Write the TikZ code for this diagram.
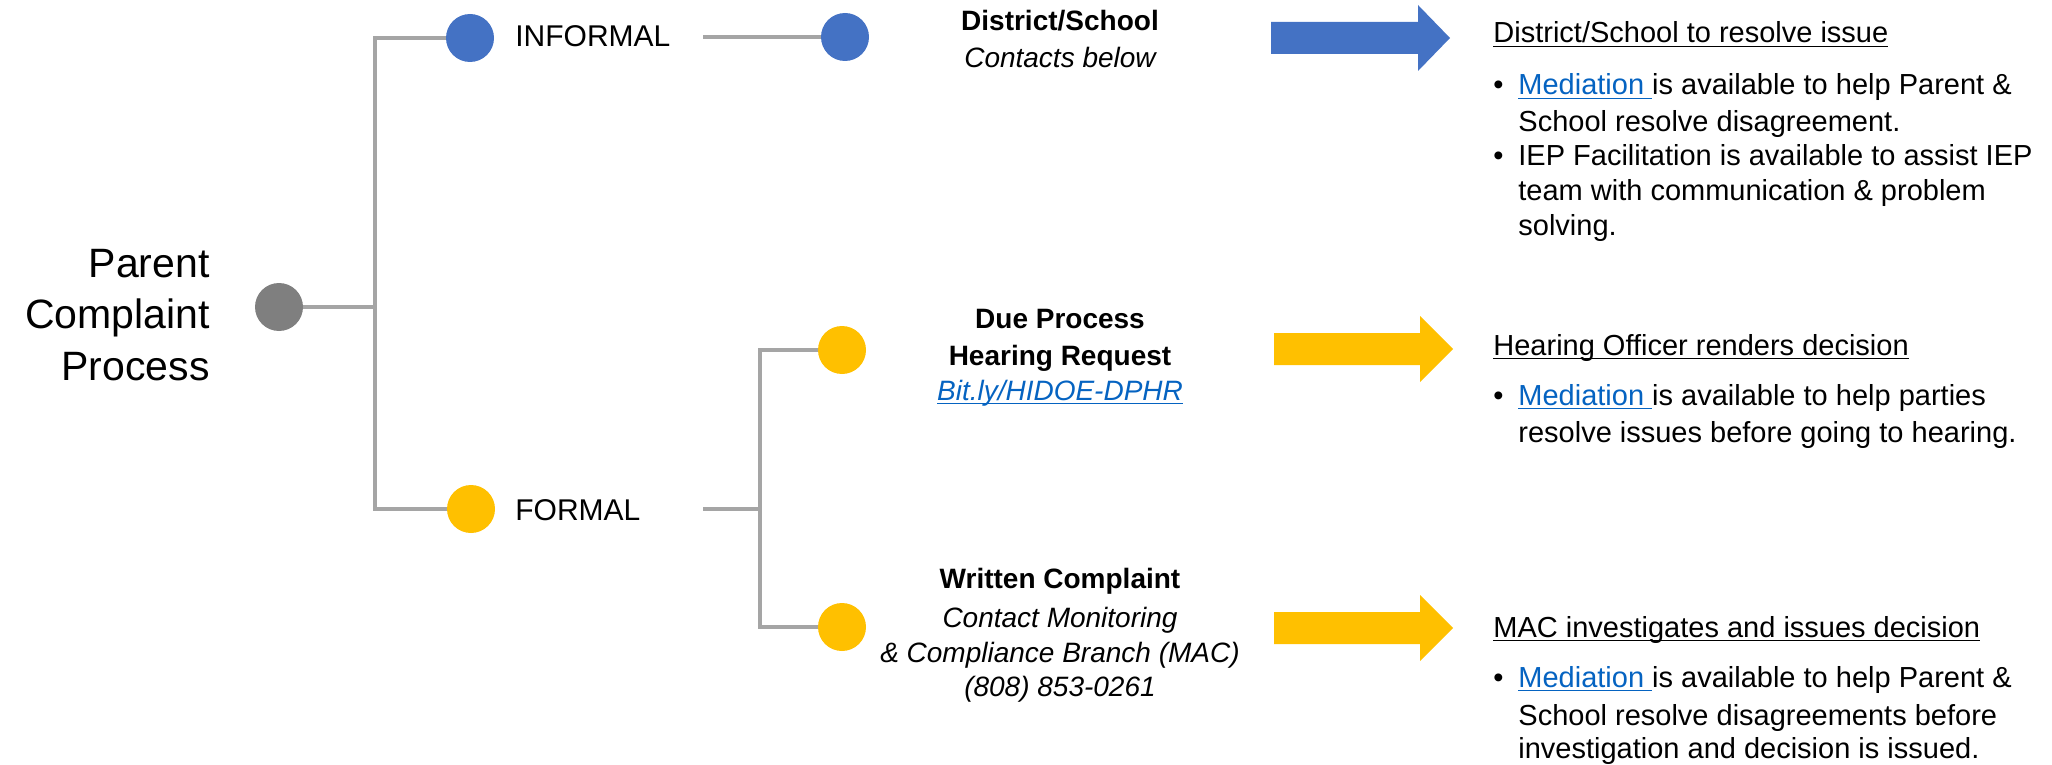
\documentclass[tikz,border=0pt]{standalone}
\usepackage{fontspec}
\setmainfont{Liberation Sans}
\definecolor{cblue}{HTML}{4472C4}
\definecolor{cyellow}{HTML}{FFC000}
\definecolor{cgray}{HTML}{7F7F7F}
\definecolor{cline}{HTML}{A5A5A5}
\definecolor{linkc}{HTML}{0563C1}
\newcommand\ulx[2]{\setbox0\hbox{{#2}}\rlap{{\color{#1}\rule[-2.2pt]{\wd0}{0.75pt}}}\box0}
\tikzset{
  dot/.style={circle, minimum size=24pt, inner sep=0, draw=none},
  conn/.style={draw=cline, line width=1.7pt},
  ttl/.style={anchor=base east, inner sep=0, font=\fontsize{20.5pt}{25pt}\selectfont},
  lvl/.style={anchor=base west, inner sep=0, font=\fontsize{15pt}{18pt}\selectfont},
  mid/.style={anchor=base, inner sep=0, font=\fontsize{14pt}{17pt}\selectfont},
  rt/.style={anchor=base west, inner sep=0, font=\fontsize{14.5pt}{17pt}\selectfont},
}
\begin{document}
\begin{tikzpicture}[x=0.5pt, y=-0.5pt]
\useasboundingbox (0,0) rectangle (2052,765);
% title
\node[ttl] (t1) at (210,277) {Parent};
\node[ttl] (t2) at (210,328) {Complaint};
\node[ttl] (t3) at (210,380) {Process};
% connectors
\coordinate (j1) at (375,307);
\coordinate (s1) at (703,37);
\coordinate (s2) at (703,509);
\coordinate (j2) at (760,509);
% circles
\node[dot, fill=cgray] (root) at (279,307) {};
\node[dot, fill=cblue] (inf) at (470,38) {};
\node[dot, fill=cyellow] (form) at (471,509) {};
\node[dot, fill=cblue] (ds) at (845,37) {};
\node[dot, fill=cyellow] (dp) at (842,350) {};
\node[dot, fill=cyellow] (wc) at (842,627) {};
\draw[conn] (root.east) -- (j1);
\draw[conn] (j1) |- (inf.west);
\draw[conn] (j1) |- (form.west);
\draw[conn] (s1) -- (ds.west);
\draw[conn] (s2) -- (j2);
\draw[conn] (j2) |- (dp.west);
\draw[conn] (j2) |- (wc.west);
% level labels
\node[lvl] (infl) at (515,47) {INFORMAL};
\node[lvl] (forml) at (515,520) {FORMAL};
% middle texts
\node[mid] (m1) at (1060,31) {\bfseries District/School};
\node[mid] (m2) at (1060,68) {\itshape Contacts below};
\node[mid] (m3) at (1060,328) {\bfseries Due Process};
\node[mid] (m4) at (1060,365) {\bfseries Hearing Request};
\node[mid] (m5) at (1060,400) {\itshape\ulx{linkc}{\color{linkc}Bit.ly/HIDOE-DPHR}};
\node[mid] (m6) at (1060,588) {\bfseries Written Complaint};
\node[mid] (m7) at (1060,627) {\itshape Contact Monitoring};
\node[mid] (m8) at (1060,662) {\itshape \& Compliance Branch (MAC)};
\node[mid] (m9) at (1060,696) {\itshape (808) 853-0261};
% block arrows
\fill[cblue] (1271,22) -- (1418,22) -- (1418,5) -- (1450,38) -- (1418,71) -- (1418,54) -- (1271,54) -- cycle;
\fill[cyellow] (1274,333) -- (1420,333) -- (1420,316) -- (1453,349) -- (1420,382) -- (1420,365) -- (1274,365) -- cycle;
\fill[cyellow] (1274,612) -- (1420,612) -- (1420,595) -- (1453,628) -- (1420,661) -- (1420,644) -- (1274,644) -- cycle;
% right texts
\node[rt] (h1) at (1493,43) {\ulx{black}{District/School to resolve issue}};
\node[rt] (b1) at (1493,95) {\textbullet};
\node[rt] (r1) at (1518,95) {\ulx{linkc}{\color{linkc}Mediation }is available to help Parent \&};
\node[rt] (r2) at (1518,132) {School resolve disagreement.};
\node[rt] (b2) at (1493,166) {\textbullet};
\node[rt] (r3) at (1518,166) {IEP Facilitation is available to assist IEP};
\node[rt] (r4) at (1518,200) {team with communication \& problem};
\node[rt] (r5) at (1518,235) {solving.};
\node[rt] (h2) at (1493,355) {\ulx{black}{Hearing Officer renders decision}};
\node[rt] (b3) at (1493,405) {\textbullet};
\node[rt] (r6) at (1518,405) {\ulx{linkc}{\color{linkc}Mediation }is available to help parties};
\node[rt] (r7) at (1518,442) {resolve issues before going to hearing.};
\node[rt] (h3) at (1493,637) {\ulx{black}{MAC investigates and issues decision}};
\node[rt] (b4) at (1493,687) {\textbullet};
\node[rt] (r8) at (1518,687) {\ulx{linkc}{\color{linkc}Mediation }is available to help Parent \&};
\node[rt] (r9) at (1518,725) {School resolve disagreements before};
\node[rt] (r10) at (1518,758) {investigation and decision is issued.};
\end{tikzpicture}
\end{document}
